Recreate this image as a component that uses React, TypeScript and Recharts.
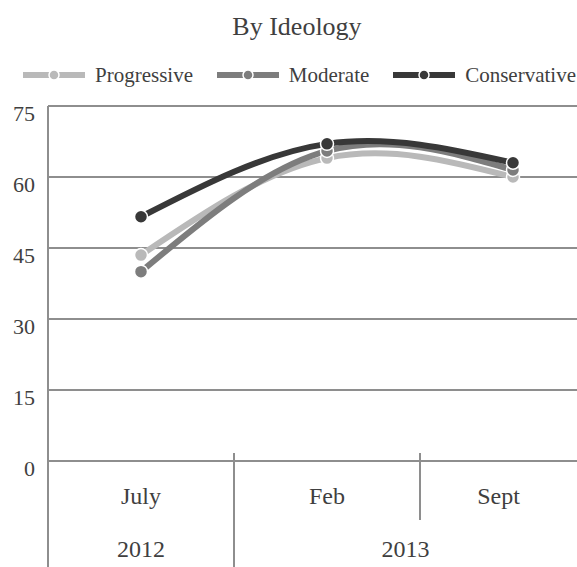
import { LineChart, Line, XAxis, YAxis, CartesianGrid } from 'recharts'

const months = ['July', 'Feb', 'Sept']
const years = ['2012', '2013', '2013']
const progressive = [43.5, 64, 60]
const moderate = [40, 65.5, 61.5]
const conservative = [51.6, 67, 63]
const yTicks = [0, 15, 30, 45, 60, 75]

const series = [
  { key: 'progressive', name: 'Progressive', color: '#b9b9b9', values: progressive },
  { key: 'moderate', name: 'Moderate', color: '#7d7d7d', values: moderate },
  { key: 'conservative', name: 'Conservative', color: '#383838', values: conservative },
]

const data = months.map((m, i) => {
  const row: Record<string, string | number> = { month: m }
  series.forEach((s) => (row[s.key] = s.values[i]))
  return row
})

const W = 577
const H = 567
const Y_AXIS_W = 48
const TOP = 106
const X_AXIS_H = 106
const BAND = 186
const AXIS_Y = H - X_AXIS_H
const FONT = '"Liberation Serif", "DejaVu Serif", serif'
const TEXT = '#3f3f3f'
const GRID = '#8e8e8e'

function MonthTick({ x, payload, index }: any) {
  const half = BAND / 2
  const left = x - half
  const right = Math.min(x + half, W)
  const newYear = index === 0 || years[index] !== years[index - 1]
  let yearLabel = null
  if (newYear) {
    let last = index
    while (last + 1 < years.length && years[last + 1] === years[index]) last++
    const gRight = Math.min(x + half + (last - index) * BAND, W)
    yearLabel = (
      <text x={(left + gRight) / 2} y={AXIS_Y + 96} textAnchor="middle" fontSize={24} fill={TEXT} fontFamily={FONT}>
        {years[index]}
      </text>
    )
  }
  return (
    <g>
      {index === 0 && <line x1={left} x2={left} y1={AXIS_Y} y2={H} stroke={GRID} strokeWidth={2} />}
      {index > 0 && (
        <line x1={left} x2={left} y1={AXIS_Y - 8} y2={newYear ? H : AXIS_Y + 59} stroke={GRID} strokeWidth={2} />
      )}
      <text x={(left + right) / 2} y={AXIS_Y + 43} textAnchor="middle" fontSize={24} fill={TEXT} fontFamily={FONT}>
        {payload.value}
      </text>
      {yearLabel}
    </g>
  )
}

function ValueTick({ y, payload }: any) {
  return (
    <text x={35} y={y + 15} textAnchor="end" fontSize={22} fill={TEXT} fontFamily={FONT}>
      {payload.value}
    </text>
  )
}

function LegendIcon({ color }: { color: string }) {
  return (
    <svg width={62} height={14} style={{ display: 'block' }}>
      <line x1={0} x2={62} y1={7} y2={7} stroke={color} strokeWidth={6} />
      <circle cx={31} cy={7} r={5} fill={color} stroke="#fff" strokeWidth={1.5} />
    </svg>
  )
}

export default function App() {
  return (
    <div style={{ position: 'absolute', left: 0, top: 0, width: W, height: H, overflow: 'hidden', background: '#fff' }}>
      <div
        style={{
          position: 'absolute', left: 0, width: 594, top: 11, textAlign: 'center',
          fontFamily: FONT, fontSize: 26, lineHeight: '32px', color: TEXT,
        }}
      >
        By Ideology
      </div>
      <div
        style={{
          position: 'absolute', left: 23, top: 62, width: 553, display: 'flex',
          justifyContent: 'space-between', alignItems: 'center',
          fontFamily: FONT, fontSize: 21, lineHeight: '26px', color: TEXT,
        }}
      >
        {series.map((s) => (
          <div key={s.key} style={{ display: 'flex', alignItems: 'center' }}>
            <LegendIcon color={s.color} />
            <span style={{ marginLeft: 10 }}>{s.name}</span>
          </div>
        ))}
      </div>
      <div style={{ position: 'absolute', left: 0, top: 0 }}>
        <LineChart
          width={Y_AXIS_W + BAND * months.length}
          height={H}
          data={data}
          margin={{ top: TOP, right: 0, bottom: 0, left: 0 }}
          style={{ overflow: 'visible' }}
        >
          <CartesianGrid vertical={false} stroke={GRID} strokeWidth={2} />
          <XAxis
            dataKey="month"
            height={X_AXIS_H}
            padding={{ left: BAND / 2, right: BAND / 2 }}
            axisLine={{ stroke: GRID, strokeWidth: 2 }}
            tickLine={false}
            tick={<MonthTick />}
            interval={0}
          />
          <YAxis
            width={Y_AXIS_W}
            domain={[0, 75]}
            ticks={yTicks}
            axisLine={{ stroke: GRID, strokeWidth: 2 }}
            tickLine={false}
            tick={<ValueTick />}
            interval={0}
          />
          {series.map((s) => (
            <Line
              key={s.key}
              dataKey={s.key}
              name={s.name}
              type="natural"
              stroke={s.color}
              strokeWidth={6}
              dot={{ r: 6.5, fill: s.color, stroke: '#fff', strokeWidth: 1.5 }}
              activeDot={false}
              isAnimationActive={false}
            />
          ))}
        </LineChart>
      </div>
    </div>
  )
}
